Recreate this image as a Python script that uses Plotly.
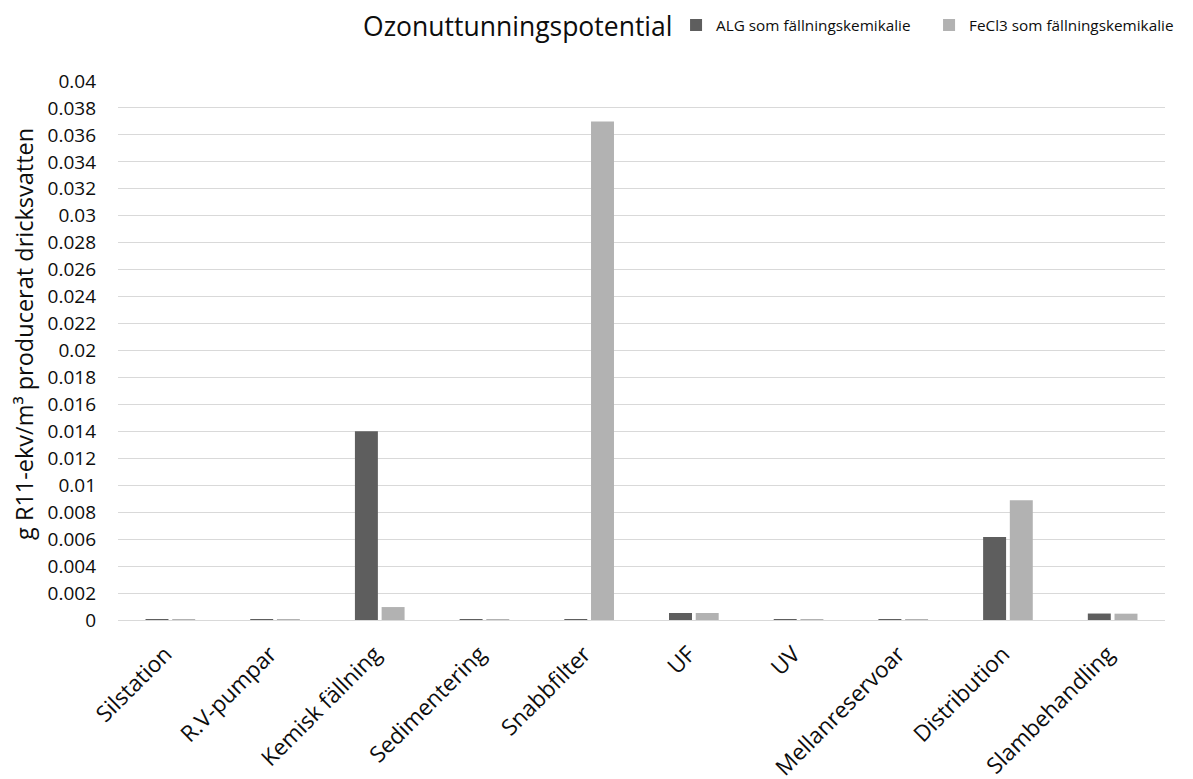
import plotly.graph_objects as go

# Process steps along the treatment chain
categories = [
    "Silstation", "R.V-pumpar", "Kemisk fällning", "Sedimentering",
    "Snabbfilter", "UF", "UV", "Mellanreservoar", "Distribution",
    "Slambehandling",
]

# Ozone depletion potential per step, g R11-ekv/m³
alg_values = [0.00002, 0.00002, 0.0140, 0.00002, 0.00002,
              0.00052, 0.00002, 0.00002, 0.00616, 0.00048]
fecl3_values = [0.00002, 0.00002, 0.00096, 0.00002, 0.0370,
                0.00052, 0.00002, 0.00002, 0.00888, 0.00047]

series_names = ["ALG som fällningskemikalie", "FeCl3 som fällningskemikalie"]
y_title = "g R11-ekv/m³ producerat dricksvatten"

# y-axis ticks 0 .. 0.04 every 0.002
tick_values = [i * 0.002 for i in range(21)]
tick_labels = ["%g" % round(v, 3) for v in tick_values]

FONT = "'Open Sans', sans-serif"
TEXT = "#0d0d0d"

fig = go.Figure()
fig.add_trace(go.Bar(x=categories, y=alg_values, name=series_names[0],
                     marker=dict(color="#5e5e5e", line=dict(width=0))))
fig.add_trace(go.Bar(x=categories, y=fecl3_values, name=series_names[1],
                     marker=dict(color="#b2b2b2", line=dict(width=0))))

fig.update_layout(
    width=1193, height=779,
    margin=dict(l=118, r=28, t=81, b=159, autoexpand=False),
    paper_bgcolor="white", plot_bgcolor="white",
    font=dict(family=FONT, color=TEXT),
    barmode="group", bargap=0.49, bargroupgap=0.14,
    title=dict(text="Ozonuttunningspotential", x=0.434, xanchor="center",
               y=0.9653, yanchor="middle",
               font=dict(size=26.5, family=FONT, color=TEXT)),
    legend=dict(orientation="h", x=0.533, xanchor="left",
                y=1.104, yanchor="middle",
                font=dict(size=15.3, family=FONT, color=TEXT),
                itemwidth=30, entrywidth=208, entrywidthmode="pixels",
                bgcolor="rgba(0,0,0,0)"),
    showlegend=True,
)

# rotated y-axis caption placed left of the tick labels
fig.add_annotation(text=y_title, textangle=-90, showarrow=False,
                   xref="paper", yref="paper", x=-0.0898, y=0.5306,
                   xanchor="center", yanchor="middle",
                   font=dict(size=23.5, family=FONT, color=TEXT))

fig.update_xaxes(
    tickangle=-45, tickfont=dict(size=22.5, family=FONT, color=TEXT),
    showgrid=False, showline=True, linecolor="#d9d9d9", linewidth=1,
    ticks="", automargin=False, ticklabelshift=-5, ticklabelstandoff=11,
)
fig.update_yaxes(
    range=[0, 0.04], tickvals=tick_values, ticktext=tick_labels,
    tickfont=dict(size=19, family=FONT, color=TEXT),
    showgrid=True, gridcolor="#d9d9d9", gridwidth=1,
    zeroline=True, zerolinecolor="#d9d9d9", zerolinewidth=1,
    showline=False, ticks="", ticklabelstandoff=21, automargin=False,
)

fig.write_html("out.html")
